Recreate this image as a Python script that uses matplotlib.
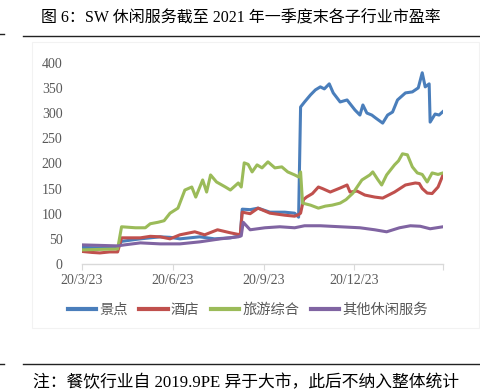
import matplotlib
matplotlib.use("Agg")
import matplotlib.pyplot as plt
import pandas as pd

# 景点
blue_dates = ['2020-03-23', '2020-04-10', '2020-04-28', '2020-05-02', '2020-05-21', '2020-06-10',
              '2020-06-20', '2020-06-30', '2020-07-20', '2020-08-04', '2020-08-20', '2020-08-30',
              '2020-09-01', '2020-09-09', '2020-09-17', '2020-09-29', '2020-10-14', '2020-10-24',
              '2020-10-28', '2020-10-30', '2020-11-03', '2020-11-09', '2020-11-14', '2020-11-19',
              '2020-11-23', '2020-11-28', '2020-12-02', '2020-12-09', '2020-12-16', '2020-12-24',
              '2020-12-29', '2021-01-01', '2021-01-05', '2021-01-10', '2021-01-14', '2021-01-21',
              '2021-01-26', '2021-01-31', '2021-02-05', '2021-02-13', '2021-02-20', '2021-02-26',
              '2021-03-02', '2021-03-05', '2021-03-09', '2021-03-10', '2021-03-15', '2021-03-19',
              '2021-03-23']
blue_vals = [33, 32, 33, 45, 50, 54,
             53, 50, 54, 50, 52, 56,
             109, 108, 111, 103, 103, 101,
             93, 312, 322, 336, 346, 352,
             348, 358, 340, 322, 326, 306,
             296, 316, 300, 296, 290, 280,
             296, 302, 326, 340, 342, 350,
             380, 352, 358, 282, 298, 296,
             303]

# 酒店
red_dates = ['2020-03-23', '2020-04-02', '2020-04-10', '2020-04-20', '2020-04-28', '2020-05-02',
             '2020-05-21', '2020-05-31', '2020-06-10', '2020-06-20', '2020-06-30', '2020-07-15',
             '2020-07-25', '2020-08-07', '2020-08-20', '2020-08-30', '2020-09-01', '2020-09-09',
             '2020-09-17', '2020-09-29', '2020-10-14', '2020-10-24', '2020-10-28', '2020-10-30',
             '2020-11-02', '2020-11-05', '2020-11-11', '2020-11-17', '2020-11-21', '2020-11-29',
             '2020-12-09', '2020-12-16', '2020-12-19', '2020-12-26', '2021-01-03', '2021-01-13',
             '2021-01-21', '2021-02-02', '2021-02-13', '2021-02-23', '2021-02-27', '2021-03-02',
             '2021-03-07', '2021-03-12', '2021-03-18', '2021-03-23']
red_vals = [25, 23, 22, 24, 24, 52,
            52, 55, 54, 50, 58, 64,
            58, 68, 62, 58, 103, 100,
            111, 101, 97, 95, 98, 101,
            128, 133, 140, 153, 150, 143,
            151, 157, 143, 145, 137, 133,
            131, 143, 157, 161, 160, 150,
            141, 140, 153, 177]

# 旅游综合
green_dates = ['2020-03-23', '2020-04-10', '2020-04-28', '2020-05-02', '2020-05-16', '2020-05-26',
               '2020-05-31', '2020-06-08', '2020-06-14', '2020-06-20', '2020-06-28', '2020-07-05',
               '2020-07-12', '2020-07-16', '2020-07-23', '2020-07-27', '2020-07-31', '2020-08-06',
               '2020-08-15', '2020-08-20', '2020-08-28', '2020-08-31', '2020-09-03', '2020-09-07',
               '2020-09-11', '2020-09-16', '2020-09-21', '2020-09-27', '2020-10-04', '2020-10-11',
               '2020-10-17', '2020-10-24', '2020-10-28', '2020-10-30', '2020-11-01', '2020-11-09',
               '2020-11-17', '2020-11-24', '2020-12-01', '2020-12-09', '2020-12-15', '2020-12-22',
               '2020-12-31', '2021-01-08', '2021-01-11', '2021-01-16', '2021-01-20', '2021-01-25',
               '2021-02-02', '2021-02-06', '2021-02-10', '2021-02-15', '2021-02-20', '2021-02-25',
               '2021-03-02', '2021-03-07', '2021-03-12', '2021-03-18', '2021-03-23']
green_vals = [28, 29, 30, 74, 72, 72,
              80, 83, 86, 101, 111, 147,
              153, 133, 167, 143, 177, 163,
              153, 147, 161, 153, 201, 198,
              183, 197, 191, 203, 191, 193,
              183, 177, 173, 183, 121, 117,
              111, 115, 117, 121, 128, 141,
              167, 177, 183, 168, 157, 177,
              197, 205, 219, 217, 193, 181,
              178, 163, 181, 178, 181]

# 其他休闲服务
purple_dates = ['2020-03-23', '2020-04-10', '2020-04-28', '2020-05-05', '2020-05-21', '2020-06-10',
                '2020-06-30', '2020-07-20', '2020-08-10', '2020-08-28', '2020-08-31', '2020-09-02',
                '2020-09-09', '2020-09-24', '2020-10-09', '2020-10-24', '2020-11-03', '2020-11-19',
                '2020-12-09', '2020-12-29', '2021-01-13', '2021-01-25', '2021-02-07', '2021-02-18',
                '2021-02-28', '2021-03-10', '2021-03-23']
purple_vals = [38, 37, 36, 38, 42, 40,
               40, 44, 50, 54, 56, 83,
               68, 72, 74, 72, 76, 76,
               74, 72, 68, 64, 72, 76,
               75, 70, 74]

series_names = ['景点', '酒店', '旅游综合', '其他休闲服务']
colors = ['#4A7EBB', '#C0504D', '#9BBB59', '#8064A2']
tick_dates = ['2020-03-23', '2020-06-23', '2020-09-23', '2020-12-23', '2021-03-23']
tick_labels = ['20/3/23', '20/6/23', '20/9/23', '20/12/23', '']

cjk = ['Liberation Serif', 'Noto Sans CJK SC']

fig = plt.figure(figsize=(4.81, 3.91), dpi=100)
ax = fig.add_axes([0.1705, 0.3248, 0.7505, 0.5148])

data = [(blue_dates, blue_vals), (red_dates, red_vals),
        (green_dates, green_vals), (purple_dates, purple_vals)]
for (d, v), name, c in zip(data, series_names, colors):
    ax.plot(pd.to_datetime(d), v, color=c, lw=2.2, label=name, solid_joinstyle='round')

ax.set_ylim(0, 400)
ax.set_yticks(range(0, 401, 50))
ax.set_xlim(pd.Timestamp('2020-03-23'), pd.Timestamp('2021-03-23'))
ax.set_xticks(pd.to_datetime(tick_dates))
ax.set_xticklabels(tick_labels)

for s in ['top', 'right', 'left']:
    ax.spines[s].set_visible(False)
ax.spines['bottom'].set_color('#D9D9D9')
ax.spines['bottom'].set_linewidth(1)
ax.tick_params(axis='y', length=0, pad=14, labelsize=10, labelcolor='#595959')
ax.tick_params(axis='x', length=4, color='#D9D9D9', pad=3, labelsize=10, labelcolor='#595959')
for lab in ax.get_xticklabels() + ax.get_yticklabels():
    lab.set_family('Liberation Serif')

leg = fig.legend(loc='center', bbox_to_anchor=(0.515, 0.207), ncol=4, frameon=False,
                 handlelength=2.0, handletextpad=0.2, columnspacing=0.8,
                 prop={'family': cjk, 'size': 10.3})
for t in leg.get_texts():
    t.set_color('#595959')
for h in leg.legend_handles:
    h.set_linewidth(3)

# faint chart frame
fig.add_artist(plt.Rectangle((32 / 481, 1 - 328 / 391), 447 / 481, 286 / 391,
                             transform=fig.transFigure, fill=False, ec='#F2F2F2', lw=0.8))

# title and rules
fig.text(0.5, 1 - 18 / 391, '图 6：SW 休闲服务截至 2021 年一季度末各子行业市盈率',
         ha='center', va='center', fontsize=11.5, family=cjk, color='black')
fig.add_artist(plt.Line2D([23 / 481, 1], [1 - 36 / 391] * 2, color='#222222', lw=1))
fig.add_artist(plt.Line2D([0, 4 / 481], [1 - 34 / 391] * 2, color='#222222', lw=1))
fig.add_artist(plt.Line2D([23 / 481, 1], [1 - 364 / 391] * 2, color='#222222', lw=1))
fig.add_artist(plt.Line2D([0, 4 / 481], [1 - 364 / 391] * 2, color='#222222', lw=1))
fig.text(33 / 481, 1 - 383 / 391, '注：餐饮行业自 2019.9PE 异于大市，此后不纳入整体统计',
         ha='left', va='center', fontsize=12.1, family=cjk, color='black')

fig.savefig('out.png', dpi=100)
